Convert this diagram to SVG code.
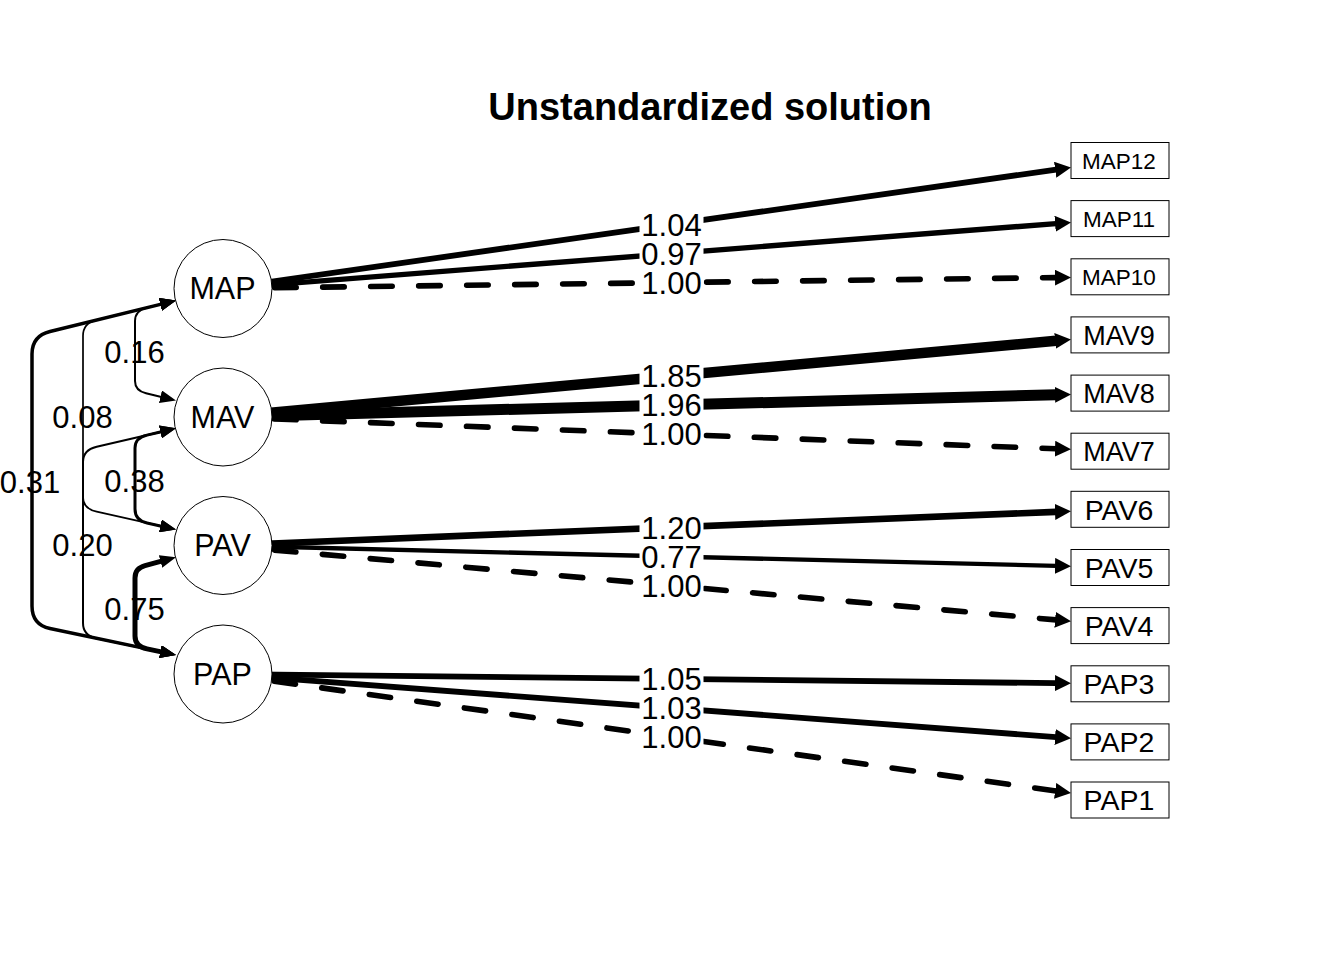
<svg xmlns="http://www.w3.org/2000/svg" width="1344" height="960" viewBox="0 0 1344 960">
<defs>
<style>
text{font-family:"Liberation Sans",Arial,sans-serif;fill:#000}
.ld{stroke:#000;fill:none;stroke-linecap:butt;marker-end:url(#ah)}
.ds{stroke:#000;fill:none;stroke-width:5.6;stroke-linecap:round;stroke-dasharray:21.5 26.5;marker-end:url(#ah)}
.cv{stroke:#000;fill:none;stroke-linejoin:round;marker-start:url(#ch);marker-end:url(#ch)}
.lb{fill:#fff}
.el{font-size:31px;text-anchor:middle}
.lat circle{fill:#fff;stroke:#000;stroke-width:1}
.lat text{font-size:30.5px;text-anchor:middle}
.man rect{fill:#fff;stroke:#000;stroke-width:1}
.man text{text-anchor:middle}
</style>
<marker id="ah" markerUnits="userSpaceOnUse" markerWidth="16" markerHeight="16" refX="1" refY="8" orient="auto"><path d="M0,0 L16,8 L0,16 Z" fill="#000"/></marker>
<marker id="ch" markerUnits="userSpaceOnUse" markerWidth="16" markerHeight="13" refX="1" refY="6.5" orient="auto-start-reverse"><path d="M0,0 L16,6.5 L0,13 Z" fill="#000"/></marker>
</defs>
<rect width="1344" height="960" fill="#fff"/>
<text x="710" y="119.5" font-size="38" font-weight="bold" text-anchor="middle">Unstandardized solution</text>
<g id="connectors">
<line class="ld" x1="223" y1="288.5" x2="1056.15" y2="169.6" stroke-width="5.8"/>
<line class="ld" x1="223" y1="288.5" x2="1056.05" y2="223.6" stroke-width="5.4"/>
<line class="ds" x1="274.7" y1="287.8" x2="1056" y2="277.6"/>
<line class="ld" x1="223" y1="417" x2="1056.06" y2="340.8" stroke-width="10.4"/>
<line class="ld" x1="223" y1="417" x2="1056" y2="394.8" stroke-width="11"/>
<line class="ds" x1="274.66" y1="419" x2="1056" y2="448.8"/>
<line class="ld" x1="223" y1="545.5" x2="1056" y2="511.9" stroke-width="6.7"/>
<line class="ld" x1="223" y1="545.5" x2="1056" y2="565.9" stroke-width="4.3"/>
<line class="ds" x1="274.5" y1="550.1" x2="1056.06" y2="619.9"/>
<line class="ld" x1="223" y1="674" x2="1056" y2="683.1" stroke-width="5.9"/>
<line class="ld" x1="223" y1="674" x2="1056.04" y2="737.1" stroke-width="5.8"/>
<line class="ds" x1="274.2" y1="681.2" x2="1056.15" y2="791"/>
<path class="cv" stroke-width="3.5" d="M161.4,304.1 L50,331.5 Q32,335.9 32,354 L32,606 Q32,624.7 50,628.5 L161.3,651.9"/>
<path class="cv" stroke-width="1.7" d="M161.4,304.1 L96,320.2 Q83,323.4 83,336 L83,497 Q83,508.6 96.7,511.7 L161.4,526.2"/>
<path class="cv" stroke-width="2" d="M161.4,304.1 L147,307.6 Q135,310.6 135,321 L135,381 Q135,390.6 146,393.3 L161.4,397"/>
<path class="cv" stroke-width="3" d="M161.4,431.7 L147,435.1 Q135,437.8 135,448 L135,509 Q135,520.3 147,523 L161.4,526.2"/>
<path class="cv" stroke-width="2" d="M161.4,431.7 L96.7,446.7 Q83,449.9 83,462 L83,623 Q83,635.4 96,638.2 L161.3,651.9"/>
<path class="cv" stroke-width="5" d="M161.5,561.2 L145,565.6 Q135,568.3 135,578 L135,636 Q135,646.4 147,648.9 L161.3,651.9"/>
<g id="loading-labels">
<rect class="lb" x="639.5" y="211.5" width="64" height="26"/><text class="el" x="671.5" y="235.6">1.04</text>
<rect class="lb" x="639.5" y="240.5" width="64" height="26"/><text class="el" x="671.5" y="264.6">0.97</text>
<rect class="lb" x="639.5" y="269.6" width="64" height="26"/><text class="el" x="671.5" y="293.7">1.00</text>
<rect class="lb" x="639.5" y="363" width="64" height="26"/><text class="el" x="671.5" y="387">1.85</text>
<rect class="lb" x="639.5" y="392" width="64" height="26"/><text class="el" x="671.5" y="416.1">1.96</text>
<rect class="lb" x="639.5" y="421.1" width="64" height="26"/><text class="el" x="671.5" y="445.2">1.00</text>
<rect class="lb" x="639.5" y="514.4" width="64" height="26"/><text class="el" x="671.5" y="538.5">1.20</text>
<rect class="lb" x="639.5" y="543.5" width="64" height="26"/><text class="el" x="671.5" y="567.6">0.77</text>
<rect class="lb" x="639.5" y="572.5" width="64" height="26"/><text class="el" x="671.5" y="596.6">1.00</text>
<rect class="lb" x="639.5" y="665.9" width="64" height="26"/><text class="el" x="671.5" y="690">1.05</text>
<rect class="lb" x="639.5" y="695" width="64" height="26"/><text class="el" x="671.5" y="719">1.03</text>
<rect class="lb" x="639.5" y="724" width="64" height="26"/><text class="el" x="671.5" y="748.1">1.00</text>
</g>
<g id="covariance-labels">
<text class="el" x="134.5" y="363.1">0.16</text>
<text class="el" x="82.5" y="428.1">0.08</text>
<text class="el" x="30" y="492.6">0.31</text>
<text class="el" x="134.5" y="492.1">0.38</text>
<text class="el" x="82.5" y="556.1">0.20</text>
<text class="el" x="134.5" y="620.1">0.75</text>
</g>
</g>
<g id="MAP" class="lat"><circle cx="223" cy="288.5" r="49"/><text x="222.5" y="299.4">MAP</text></g>
<g id="MAV" class="lat"><circle cx="223" cy="417" r="49"/><text x="222.5" y="427.9">MAV</text></g>
<g id="PAV" class="lat"><circle cx="223" cy="545.5" r="49"/><text x="222.5" y="556.4">PAV</text></g>
<g id="PAP" class="lat"><circle cx="223" cy="674" r="49"/><text x="222.5" y="684.9">PAP</text></g>
<g id="MAP12" class="man"><rect x="1071" y="142.5" width="98" height="36"/><text x="1119" y="168.6" font-size="22.5">MAP12</text></g>
<g id="MAP11" class="man"><rect x="1071" y="200.6" width="98" height="36"/><text x="1119" y="226.7" font-size="22.5">MAP11</text></g>
<g id="MAP10" class="man"><rect x="1071" y="258.8" width="98" height="36"/><text x="1119" y="284.9" font-size="22.5">MAP10</text></g>
<g id="MAV9" class="man"><rect x="1071" y="316.9" width="98" height="36"/><text x="1119" y="344.6" font-size="27">MAV9</text></g>
<g id="MAV8" class="man"><rect x="1071" y="375.1" width="98" height="36"/><text x="1119" y="402.8" font-size="27">MAV8</text></g>
<g id="MAV7" class="man"><rect x="1071" y="433.2" width="98" height="36"/><text x="1119" y="460.9" font-size="27">MAV7</text></g>
<g id="PAV6" class="man"><rect x="1071" y="491.3" width="98" height="36"/><text x="1119" y="519.5" font-size="28.5">PAV6</text></g>
<g id="PAV5" class="man"><rect x="1071" y="549.5" width="98" height="36"/><text x="1119" y="577.7" font-size="28.5">PAV5</text></g>
<g id="PAV4" class="man"><rect x="1071" y="607.6" width="98" height="36"/><text x="1119" y="635.8" font-size="28.5">PAV4</text></g>
<g id="PAP3" class="man"><rect x="1071" y="665.8" width="98" height="36"/><text x="1119" y="694" font-size="28.5">PAP3</text></g>
<g id="PAP2" class="man"><rect x="1071" y="723.9" width="98" height="36"/><text x="1119" y="752.1" font-size="28.5">PAP2</text></g>
<g id="PAP1" class="man"><rect x="1071" y="782" width="98" height="36"/><text x="1119" y="810.2" font-size="28.5">PAP1</text></g>
</svg>
